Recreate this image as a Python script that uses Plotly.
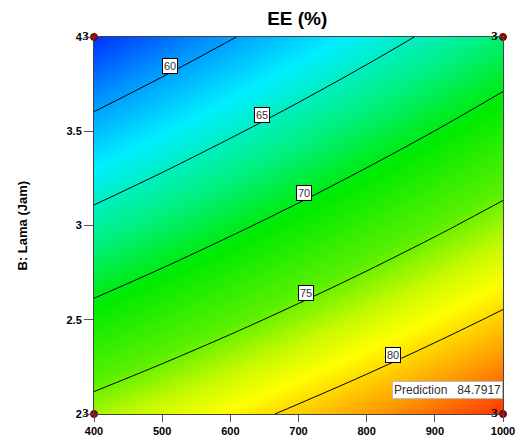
import plotly.graph_objects as go

# A: x-axis factor levels, B: Lama (Jam)
x_vals = [400, 500, 600, 700, 800, 900, 1000]
y_vals = [2.0, 2.5, 3.0, 3.5, 4.0]
# EE (%), rows follow y_vals
z_vals = [
    [76.20, 77.63, 79.06, 80.50, 81.93, 83.36, 84.79],
    [71.15, 72.70, 74.25, 75.81, 77.36, 78.92, 80.47],
    [66.10, 67.77, 69.45, 71.12, 72.80, 74.47, 76.15],
    [61.05, 62.84, 64.64, 66.43, 68.23, 70.02, 71.82],
    [56.00, 57.91, 59.83, 61.75, 63.66, 65.58, 67.50],
]

# design points (corners) and their replicate counts
design_x = [400, 400, 1000, 1000]
design_y = [2, 4, 2, 4]
design_n = ["3", "3", "3", "3"]

# contour label values and where they sit
label_vals = [60, 65, 70, 75, 80]
label_x = [511.5, 646.5, 708, 711, 838.6]
label_y = [3.846, 3.586, 3.172, 2.642, 2.313]

prediction_text = "Prediction   84.7917"
y_title = "B: Lama (Jam)"

x_ticks = [400, 500, 600, 700, 800, 900, 1000]
y_ticks = [2, 2.5, 3, 3.5, 4]

zmin, zmax = 56.0, 84.8
stops = [(56, "rgb(0,50,255)"), (59.5, "rgb(0,150,255)"), (63, "rgb(0,238,255)"),
         (67, "rgb(0,240,130)"), (70.5, "rgb(0,235,0)"), (74.5, "rgb(90,240,0)"),
         (77, "rgb(200,250,0)"), (78.8, "rgb(255,255,0)"), (82, "rgb(255,155,0)"),
         (84.8, "rgb(255,50,0)")]
colorscale = [[(v - zmin) / (zmax - zmin), c] for v, c in stops]

fig = go.Figure()
fig.add_trace(go.Contour(
    x=x_vals, y=y_vals, z=z_vals,
    zmin=zmin, zmax=zmax, colorscale=colorscale, showscale=False,
    contours=dict(coloring="heatmap", start=60, end=80, size=5, showlabels=False),
    line=dict(color="black", width=1),
    hoverinfo="skip",
))
fig.add_trace(go.Scatter(
    x=design_x, y=design_y, mode="markers+text", text=design_n,
    textposition="middle left",
    textfont=dict(family="Liberation Serif", size=13, color="black", weight="bold"),
    marker=dict(color="#a80000", size=7, line=dict(color="#600000", width=1)),
    cliponaxis=False, showlegend=False, hoverinfo="skip",
))

annotations = []
for v, lx, ly in zip(label_vals, label_x, label_y):
    annotations.append(dict(
        x=lx, y=ly, xref="x", yref="y", text=str(v), showarrow=False,
        font=dict(family="Liberation Sans", size=11, color="#333"),
        bgcolor="white", bordercolor="black", borderwidth=1, borderpad=1,
    ))
annotations.append(dict(
    x=1.0, y=2.127, xref="paper", yref="y", xanchor="right", text=prediction_text,
    showarrow=False, font=dict(family="Liberation Sans", size=12, color="#333"),
    bgcolor="white", bordercolor="#bbbbbb", borderwidth=1, borderpad=1,
))
annotations.append(dict(
    x=-72 / 409, y=0.5, xref="paper", yref="paper", xanchor="center", yanchor="middle",
    text=y_title, textangle=-90, showarrow=False,
    font=dict(family="Liberation Sans", size=13, color="black", weight="bold"),
))

fig.update_layout(
    width=518, height=445,
    margin=dict(l=94, r=15, t=37, b=31, autoexpand=False),
    paper_bgcolor="white", plot_bgcolor="white",
    title=dict(text="EE (%)", xref="paper", x=0.497, xanchor="center",
               y=1 - 18 / 445, yanchor="middle",
               font=dict(family="Liberation Sans", size=19, color="black", weight="bold")),
    annotations=annotations,
    xaxis=dict(range=[400, 1000], tickvals=x_ticks, ticks="outside", ticklen=7,
               tickcolor="#555", showline=True, mirror=True, linecolor="#444",
               linewidth=1, showgrid=False, zeroline=False, automargin=False,
               tickfont=dict(family="Liberation Sans", size=11, color="black", weight="bold")),
    yaxis=dict(range=[2, 4], tickvals=y_ticks, ticktext=["2", "2.5", "3", "3.5", "4"],
               ticks="outside", ticklen=9, tickcolor="#555", showline=True, mirror=True,
               linecolor="#444", linewidth=1, showgrid=False, zeroline=False, automargin=False,
               tickfont=dict(family="Liberation Sans", size=11, color="black", weight="bold")),
)

fig.write_html("out.html", config={"displayModeBar": False},
               post_script="document.body.style.margin='0';document.body.style.overflow='hidden';")
